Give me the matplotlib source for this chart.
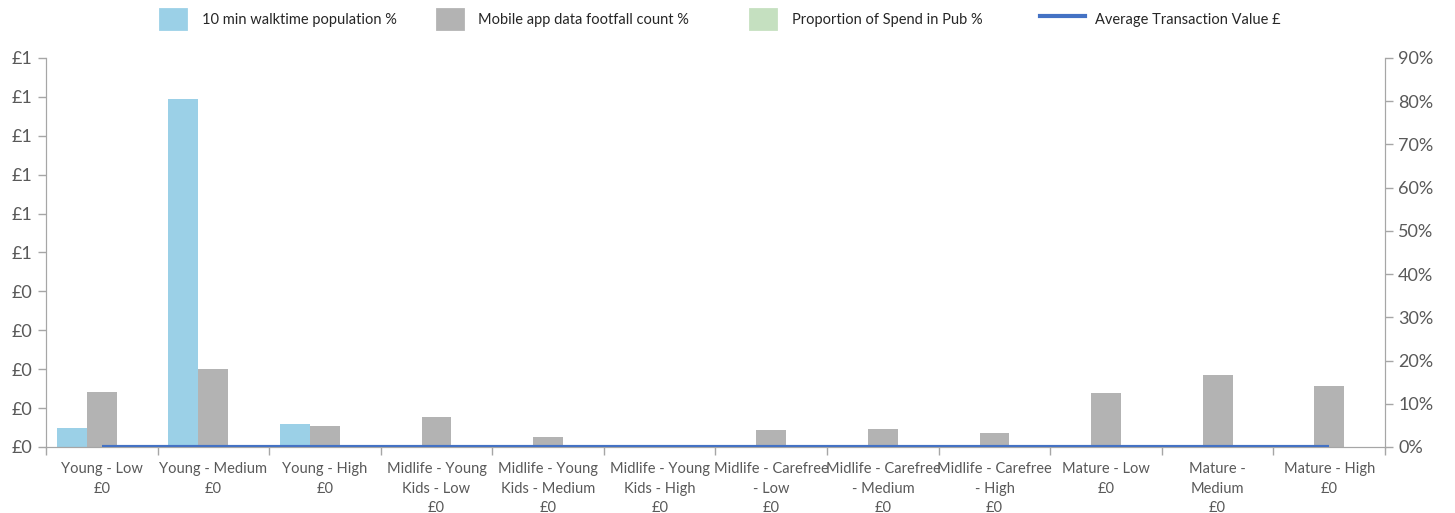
import numpy as np
import matplotlib
matplotlib.use('Agg')
import matplotlib.pyplot as plt
from matplotlib.patches import Patch
from matplotlib.lines import Line2D
from matplotlib.ticker import FuncFormatter, MultipleLocator

plt.rcParams['font.family'] = ['Lato', 'DejaVu Sans']

# Categories (segment - affluence, with avg transaction value as last line)
categories = ['Young - Low\n£0', 'Young - Medium\n£0', 'Young - High\n£0',
              'Midlife - Young\nKids - Low\n£0', 'Midlife - Young\nKids - Medium\n£0',
              'Midlife - Young\nKids - High\n£0', 'Midlife - Carefree\n- Low\n£0',
              'Midlife - Carefree\n- Medium\n£0', 'Midlife - Carefree\n- High\n£0',
              'Mature - Low\n£0', 'Mature -\nMedium\n£0', 'Mature - High\n£0']

# Series in %
walktime_pop = [4.3, 80.6, 5.4, 0, 0, 0, 0, 0, 0, 0, 0, 0]
footfall = [12.8, 18.1, 4.9, 6.9, 2.3, 0, 3.9, 4.2, 3.3, 12.6, 16.7, 14.2]
spend_pub = [0, 0, 0, 0, 0, 0, 0, 0, 0, 0, 0, 0]
avg_trans = [0, 0, 0, 0, 0, 0, 0, 0, 0, 0, 0, 0]

c_blue = '#9BD0E7'
c_grey = '#B3B3B3'
c_green = '#C5E0C0'
c_line = '#4472C4'
c_axis = '#A6A6A6'
c_text = '#595959'

fig = plt.figure(figsize=(14.55, 5.13), dpi=100)
ax = fig.add_axes([0.0316, 0.1287, 0.9203, 0.7583])
ax2 = ax.twinx()

x = np.arange(len(categories))
w = 0.268
# bars belong to the right (%) axis
ax2.bar(x - w, walktime_pop, w, color=c_blue, zorder=2)
ax2.bar(x, footfall, w, color=c_grey, zorder=2)
ax2.bar(x + w, spend_pub, w, color=c_green, zorder=2)
ax2.set_ylim(0, 90)
ax2.yaxis.set_major_locator(MultipleLocator(10))
ax2.yaxis.set_major_formatter(FuncFormatter(lambda v, p: '%d%%' % round(v)))

# line on the left (£) axis, drawn above bars
ax.set_zorder(ax2.get_zorder() + 1)
ax.patch.set_visible(False)
ax.plot(x, avg_trans, color=c_line, lw=3, solid_capstyle='butt', zorder=5)
ax.set_ylim(0, 1.0)
ax.yaxis.set_major_locator(MultipleLocator(0.1))
ax.yaxis.set_major_formatter(FuncFormatter(lambda v, p: '£%d' % int(np.floor(v + 0.5 + 1e-9))))

ax.set_xlim(-0.5, len(categories) - 0.5)
ax.set_xticks(x)
ax.set_xticklabels(categories, fontsize=10.5, color=c_text, linespacing=1.5)
ax.set_xticks(np.arange(-0.5, len(categories), 1), minor=True)
ax.tick_params(axis='x', which='major', length=0, pad=11)
ax.tick_params(axis='x', which='minor', length=6, color=c_axis, width=1)

ax.tick_params(axis='y', labelsize=13, colors=c_text, length=6, width=1)
ax.tick_params(axis='y', color=c_axis)
ax2.tick_params(axis='y', labelsize=13, colors=c_text, length=6, width=1)
ax2.tick_params(axis='y', color=c_axis)

for a in (ax, ax2):
    a.spines['top'].set_visible(False)
    for s in ('left', 'right', 'bottom'):
        a.spines[s].set_color(c_axis)

# legend entries placed one by one, like the original layout
handles = [Patch(facecolor=c_blue, edgecolor=c_blue, lw=2, joinstyle='round',
                 label='10 min walktime population %'),
           Patch(facecolor=c_grey, edgecolor=c_grey, lw=2, joinstyle='round',
                 label='Mobile app data footfall count %'),
           Patch(facecolor=c_green, edgecolor=c_green, lw=2, joinstyle='round',
                 label='Proportion of Spend in Pub %'),
           Line2D([0], [0], color=c_line, lw=3, label='Average Transaction Value £')]
leg_x = [0.110, 0.3003, 0.5155, 0.7148]
for h, lx in zip(handles, leg_x):
    is_line = isinstance(h, Line2D)
    fig.legend(handles=[h], loc='center left', bbox_to_anchor=(lx, 0.963),
               frameon=False, fontsize=10.5, borderpad=0, borderaxespad=0,
               handlelength=3.1 if is_line else 1.8, handleheight=1.8,
               handletextpad=0.7 if is_line else 1.05, labelcolor='#262626')

fig.savefig('out.png', dpi=100)
